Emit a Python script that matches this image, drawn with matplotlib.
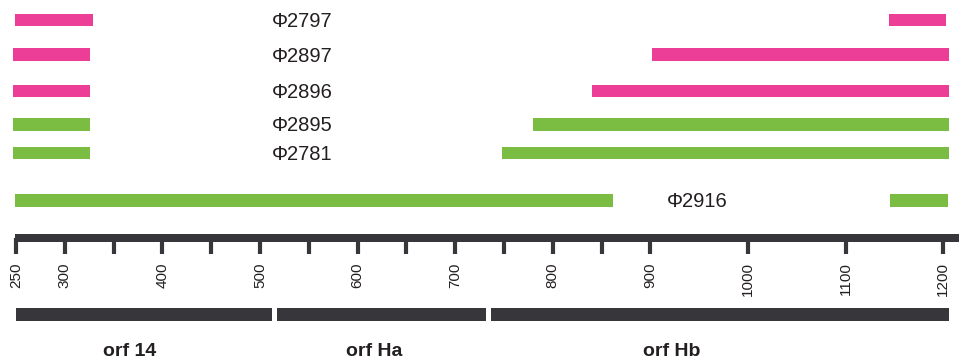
import matplotlib.pyplot as plt

# phage deletion map over the orf14 / orfH region
phage_names = ['Φ2797', 'Φ2897', 'Φ2896', 'Φ2895', 'Φ2781', 'Φ2916']
left_start = [249, 247, 247, 247, 247, 249]
left_end = [329, 326, 326, 326, 326, 862]
right_start = [1144, 902, 840, 780, 748, 1145]
right_end = [1203, 1206, 1206, 1206, 1206, 1205]
phage_colors = ['#EC3E96', '#EC3E96', '#EC3E96', '#7BBD42', '#7BBD42', '#7BBD42']
label_pos = [512, 512, 512, 512, 512, 917]

orf_names = ['orf 14', 'orf Ha', 'orf Hb']
orf_start = [250, 517, 737]
orf_end = [512, 732, 1206]
orf_label_pos = [366, 617, 922]

tick_major = [250, 300, 350, 400, 450, 500, 550, 600, 650, 700, 750, 800, 850,
              900, 1000, 1100, 1200]
tick_labels = [250, 300, 400, 500, 600, 700, 800, 900, 1000, 1100, 1200]

# vertical layout (pixel-like units, top = 0)
row_y = [20, 54.7, 91, 124.3, 153, 200.3]
axis_y = 238.3
orf_y = 314

dark = '#37373B'
text_col = '#231F20'

fig = plt.figure(figsize=(9.59, 3.59), dpi=100)
ax = fig.add_axes([0, 0, 1, 1])
ax.set_xlim(233.6, 1216.1)
ax.set_ylim(359, 0)
ax.axis('off')

for i, name in enumerate(phage_names):
    ax.barh(row_y[i], left_end[i] - left_start[i], left=left_start[i],
            height=12.5, color=phage_colors[i])
    ax.barh(row_y[i], right_end[i] - right_start[i], left=right_start[i],
            height=12.5, color=phage_colors[i])
    ax.text(label_pos[i], row_y[i] + 7, name, ha='left', va='baseline',
            fontsize=14.5, color=text_col, family='Liberation Sans')

# scale bar
ax.barh(axis_y, 1216.1 - 249, left=249, height=8, color=dark)
ax.vlines(tick_major, axis_y, 254.3, color=dark, linewidth=3)
for t in tick_labels:
    ax.text(t, 262.5, str(t), rotation=90, ha='center', va='top',
            fontsize=11, color=text_col, family='Liberation Sans')

# ORF bars
for i, name in enumerate(orf_names):
    ax.barh(orf_y, orf_end[i] - orf_start[i], left=orf_start[i],
            height=13, color=dark)
    ax.text(orf_label_pos[i], 356.5, name, ha='center', va='baseline',
            fontsize=14, fontweight='bold', color=text_col,
            family='Liberation Sans')

fig.savefig('out.png', dpi=100)
